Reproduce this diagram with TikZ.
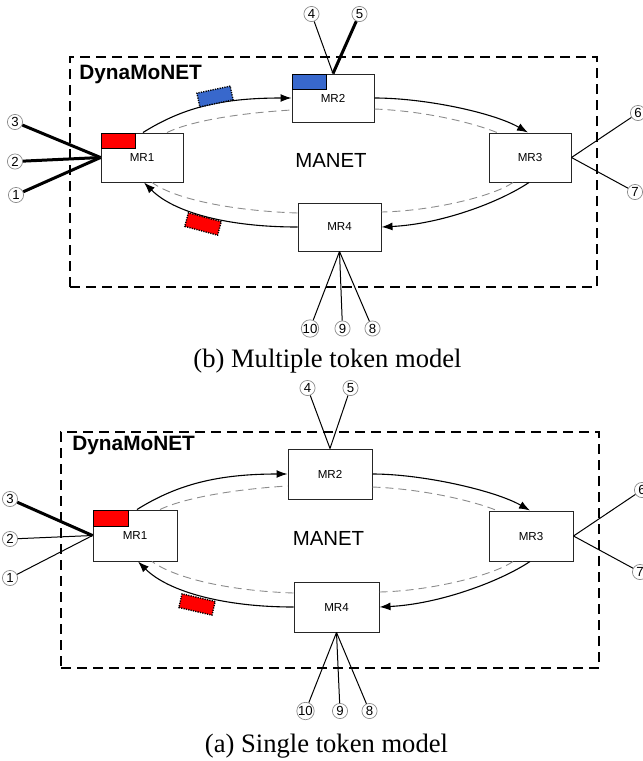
\documentclass[tikz,border=0pt]{standalone}
\usepackage{fontspec}
\setmainfont{Liberation Serif}
\setsansfont{Liberation Sans}
\usetikzlibrary{arrows.meta,calc}
\definecolor{tokred}{RGB}{255,0,0}
\definecolor{tokblue}{RGB}{56,104,204}
\begin{document}
\begin{tikzpicture}[x=0.5pt,y=-0.5pt,
  mr/.style={draw=black!85,line width=0.5pt,fill=white,rectangle,inner sep=0pt,
    minimum width=41pt,minimum height=24.5pt,font=\sffamily\fontsize{5.8}{7}\selectfont},
  mrb/.style={mr,minimum width=42pt,minimum height=25pt},
  num/.style={circle,draw=black!45,line width=0.35pt,minimum size=7.6pt,inner sep=0pt,
    fill=white,font=\sffamily\fontsize{6.6}{7}\selectfont},
  outerbox/.style={draw,line width=1pt,dash pattern=on 5pt off 3pt,inner sep=0pt},
  flow/.style={line width=0.55pt,-{Latex[length=5.5pt,width=4pt]}},
  ghost/.style={draw=black!45,line width=0.45pt,dash pattern=on 4pt off 2.5pt},
  token/.style={draw,dash pattern=on 0.6pt off 0.6pt,line width=0.7pt,minimum width=17pt,minimum height=7pt,inner sep=0pt},
  flag/.style={draw,line width=0.6pt,inner sep=0pt,anchor=north west,minimum width=17pt,minimum height=7.5pt},
  heavy/.style={line width=1.5pt},
  wire/.style={line width=0.5pt},
  title/.style={font=\sffamily\bfseries\fontsize{10.4}{12}\selectfont,anchor=base west,inner sep=0pt},
  cloud/.style={font=\sffamily\fontsize{10.2}{12}\selectfont,anchor=base,inner sep=0pt},
  caption/.style={font=\fontsize{13.3}{16}\selectfont,anchor=base,inner sep=0pt}]
\useasboundingbox (0,0) rectangle (643,761);

% ===================== multiple token model =====================
\node[outerbox,minimum width=263.5pt,minimum height=115pt] (fa) at (333.5,172) {};
\node[title] (ta) at (79,79) {DynaMoNET};
\node[cloud] (ca) at (331,167) {MANET};

\node[mr] (a1) at (142,157.5) {MR1};
\node[mr,minimum height=24pt] (a2) at (333,98) {MR2};
\node[mr] (a3) at (530,157.5) {MR3};
\node[mr,minimum width=41.5pt,minimum height=24pt] (a4) at (339.5,227) {MR4};

\node[flag,fill=tokred] (fa1) at (a1.north west) {};
\node[flag,fill=tokblue] (fa2) at (a2.north west) {};

% ring of token passing
\draw[flow] ($(a1.north)+(1,0)$) .. controls +(40,-25) and +(-70,0) .. (a2.west);
\draw[ghost] ($(a1.north)+(25,0)$) .. controls +(25,-12) and +(-50,3) .. ($(a2.west)+(0,12)$);
\draw[flow] (a2.east) .. controls +(50,0) and +(-35,-20) .. ($(a3.north)+(-2,0)$);
\draw[ghost] ($(a2.east)+(0,11)$) .. controls +(50,2) and +(-25,-10) .. ($(a3.north)+(-33,0)$);
\draw[flow] ($(a3.south)+(-1,0)$) .. controls +(-30,20) and +(60,-3) .. (a4.east);
\draw[ghost] ($(a3.south)+(-17,0)$) .. controls +(-20,14) and +(50,-1) .. ($(a4.east)+(0,-15)$);
\draw[flow] (a4.west) .. controls +(-70,0) and +(30,30) .. ($(a1.south)+(2,0)$);
\draw[ghost] ($(a4.west)+(0,-14)$) .. controls +(-60,-2) and +(25,18) .. ($(a1.south)+(10,0)$);

\node[token,fill=tokblue,rotate=12] (ka) at (215,96.5) {};
\node[token,fill=tokred,rotate=-15] (kb) at (203,224) {};

% attached hosts
\node[num] (t3) at (15,122) {3};
\node[num] (t2) at (15,161.5) {2};
\node[num] (t1) at (16,195) {1};
\node[num] (t4) at (311.5,14) {4};
\node[num] (t5) at (359.5,14) {5};
\node[num] (t6) at (638,113) {6};
\node[num] (t7) at (635,192) {7};
\node[num] (t10) at (310,328.5) {10};
\node[num] (t9) at (342.5,328.5) {9};
\node[num] (t8) at (372.5,328.5) {8};

\draw[heavy] (t3) -- (a1.west);
\draw[heavy] (t2) -- (a1.west);
\draw[heavy] (t1) -- (a1.west);
\draw[wire] (t4) -- (a2.north);
\draw[heavy] (t5) -- (a2.north);
\draw[wire] (t6) -- (a3.east);
\draw[wire] (t7) -- (a3.east);
\draw[wire] (t10) -- (a4.south);
\draw[wire] (t9) -- (a4.south);
\draw[wire] (t8) -- (a4.south);

\node[caption] (capb) at (327.5,367) {(b) Multiple token model};

% ===================== single token model =====================
\node[outerbox,minimum width=269pt,minimum height=118pt] (fb) at (330,550) {};
\node[title] (tb) at (72,450.5) {DynaMoNET};
\node[cloud] (cb) at (328.5,545) {MANET};

\node[mrb,minimum height=25.5pt] (b1) at (135,535.5) {MR1};
\node[mrb] (b2) at (330,474) {MR2};
\node[mrb] (b3) at (531,536) {MR3};
\node[mrb,minimum width=42.5pt] (b4) at (336.5,607) {MR4};

\node[flag,fill=tokred,minimum width=17.5pt,minimum height=8pt] (fb1) at (b1.north west) {};

\draw[flow] ($(b1.north)+(2,0)$) .. controls +(40,-25) and +(-70,0) .. (b2.west);
\draw[ghost] ($(b1.north)+(25,0)$) .. controls +(25,-12) and +(-50,3) .. ($(b2.west)+(0,12)$);
\draw[flow] (b2.east) .. controls +(50,0) and +(-35,-20) .. ($(b3.north)+(-1,0)$);
\draw[ghost] ($(b2.east)+(0,13)$) .. controls +(50,2) and +(-25,-10) .. ($(b3.north)+(-34,0)$);
\draw[flow] ($(b3.south)+(-1,0)$) .. controls +(-30,20) and +(60,-3) .. (b4.east);
\draw[ghost] ($(b3.south)+(-18,0)$) .. controls +(-20,14) and +(50,-1) .. ($(b4.east)+(0,-15)$);
\draw[flow] (b4.west) .. controls +(-70,0) and +(30,30) .. ($(b1.south)+(3,0)$);
\draw[ghost] ($(b4.west)+(0,-14)$) .. controls +(-60,-2) and +(25,18) .. ($(b1.south)+(17,0)$);

\node[token,fill=tokred,rotate=-13] (kc) at (197,604.5) {};

\node[num] (s3) at (10,499) {3};
\node[num] (s2) at (10,539) {2};
\node[num] (s1) at (10,578) {1};
\node[num] (s4) at (307.5,388) {4};
\node[num] (s5) at (350.5,388) {5};
\node[num] (s6) at (642,490) {6};
\node[num] (s7) at (640,572) {7};
\node[num] (s10) at (305.5,711) {10};
\node[num] (s9) at (340,711) {9};
\node[num] (s8) at (369.5,711) {8};

\draw[heavy] (s3) -- (b1.west);
\draw[wire] (s2) -- (b1.west);
\draw[wire] (s1) -- (b1.west);
\draw[wire] (s4) -- (b2.north);
\draw[wire] (s5) -- (b2.north);
\draw[wire] (s6) -- (b3.east);
\draw[wire] (s7) -- (b3.east);
\draw[wire] (s10) -- (b4.south);
\draw[wire] (s9) -- (b4.south);
\draw[wire] (s8) -- (b4.south);

\node[caption] (capa) at (326.5,752) {(a) Single token model};
\end{tikzpicture}
\end{document}
